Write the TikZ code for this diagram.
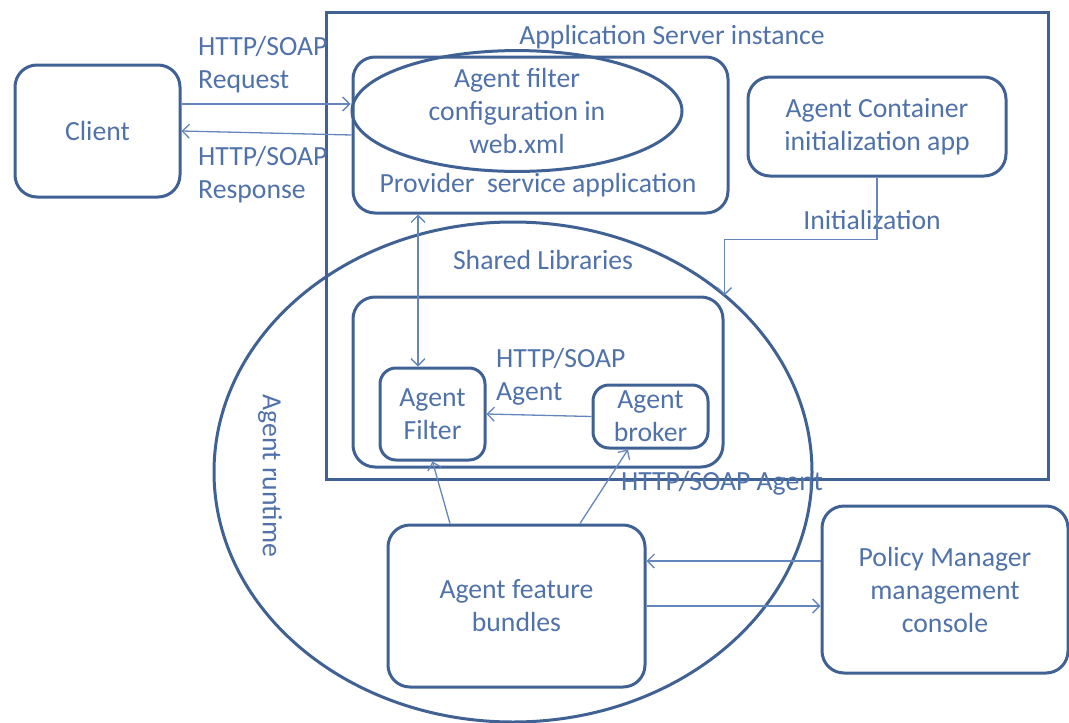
\documentclass[tikz,border=0pt]{standalone}
\usepackage{fontspec}
\setmainfont{Carlito}
\usetikzlibrary{arrows.meta,shapes.geometric,calc}
\definecolor{boxc}{RGB}{64,97,147}
\definecolor{txtc}{RGB}{80,114,170}
\definecolor{arrc}{RGB}{100,134,188}
\tikzset{
  box/.style={draw=boxc, line width=3pt, rounded corners=22pt, inner sep=0pt, align=center, text=txtc},
  lbl/.style={text=txtc, inner sep=0pt, align=center},
  arr/.style={draw=arrc, line width=1.3pt, -{Straight Barb[length=7pt,width=14pt]}},
  darr/.style={draw=arrc, line width=1.3pt, {Straight Barb[length=7pt,width=14pt]}-{Straight Barb[length=7pt,width=14pt]}}
}
\begin{document}
\begin{tikzpicture}[x=1pt,y=-1pt,font=\fontsize{27.7}{33}\selectfont]
\useasboundingbox (0,0) rectangle (1069,723);
% containers
\node[draw=boxc, line width=3pt, minimum width=722pt, minimum height=467pt, inner sep=0pt] (app) at (687.5,245.5) {};
\node[lbl] (applbl) at (672,37) {Application Server instance};
\node[draw=boxc, line width=3pt, ellipse, minimum width=598pt, minimum height=500pt, inner sep=0pt] (rt) at (513,472) {};
\node[lbl, rotate=-90] (rtlbl) at (270,476) {Agent runtime};
\node[lbl] (shlbl) at (543,260) {Shared Libraries};
% boxes
\node[box, minimum width=165pt, minimum height=132pt] (client) at (97.5,131) {Client};
\node[box, minimum width=375pt, minimum height=156pt] (prov) at (540.5,135) {};
\node[lbl] (provlbl) at (538,185) {Provider\ \ service application};
\node[draw=boxc, line width=3pt, ellipse, minimum width=330pt, minimum height=92pt, inner sep=0pt, align=center, text=txtc] (ell) at (517,111) {Agent filter\\configuration in\\web.xml};
\node[box, minimum width=258pt, minimum height=99pt] (cont) at (877,126.5) {Agent Container\\initialization app};
\node[box, minimum width=370pt, minimum height=170pt] (libs) at (538,382) {};
\node[box, rounded corners=16pt, minimum width=105pt, minimum height=92pt] (filter) at (432.5,414) {Agent\\Filter};
\node[box, rounded corners=16pt, minimum width=115pt, minimum height=63pt] (broker) at (650.5,416.5) {Agent\\broker};
\node[box, minimum width=257pt, minimum height=162pt] (bund) at (516.5,606) {Agent feature\\bundles};
\node[box, minimum width=246pt, minimum height=167pt] (pm) at (945,589.5) {Policy Manager\\management\\console};
% labels
\node[lbl, anchor=west, align=left] (reqlbl) at (198,65) {HTTP/SOAP\\Request};
\node[lbl, anchor=west, align=left] (reslbl) at (198,174.5) {HTTP/SOAP\\Response};
\node[lbl, anchor=west, align=left] (aglbl) at (496,376.5) {HTTP/SOAP\\Agent};
\node[lbl] (initlbl) at (872,220) {Initialization};
\node[lbl] (ag2lbl) at (722,483) {HTTP/SOAP Agent};
% connectors
\draw[arr] ([yshift=7pt]client.east |- ell.west) -- ([yshift=7pt]ell.west);
\draw[arr] (prov.west) -- (client.east);
\draw[arr] (cont.south) -- ++(0,62) -| (libs.north east);
\draw[darr] ([xshift=-14.5pt]filter.north |- prov.south) -- ([xshift=-14.5pt]filter.north);
\draw[arr] (broker.west) -- (filter.east);
\draw[arr] ([xshift=-66.5pt]bund.north) -- (filter.south);
\draw[arr] ([xshift=63.5pt]bund.north) -- ([xshift=-22.5pt]broker.south);
\draw[arr] ([yshift=28.5pt]pm.west) -- ([yshift=28.5pt]pm.west -| bund.east);
\draw[arr] (bund.east) -- (bund.east -| pm.west);
\end{tikzpicture}
\end{document}
